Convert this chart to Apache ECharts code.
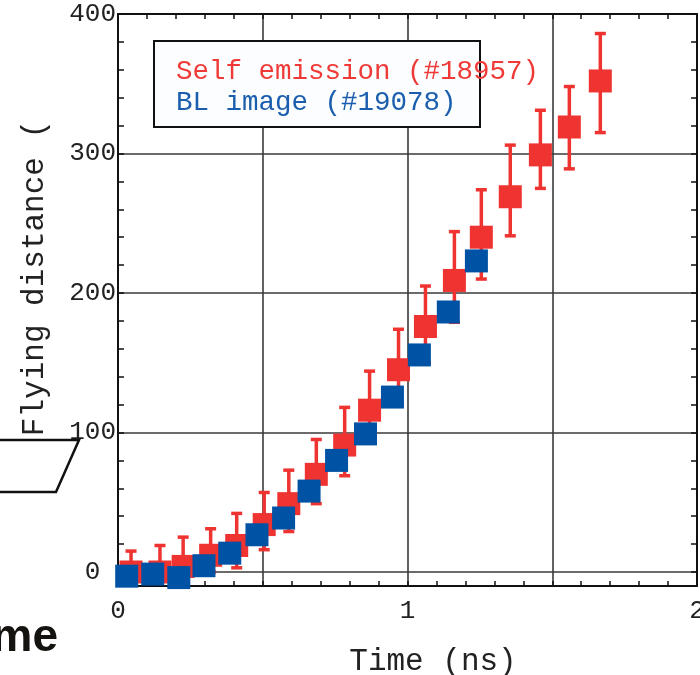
<!DOCTYPE html>
<html>
<head>
<meta charset="utf-8">
<style>
  html, body { margin: 0; padding: 0; background: #fff; }
  #chart { width: 700px; height: 675px; }
</style>
<script src="https://cdn.jsdelivr.net/npm/echarts@6/dist/echarts.min.js"></script>
</head>
<body>
<div id="chart"></div>
<script>
// Self emission shot (#18957): time (ns), distance, upper / lower error
const timeSelf = [0.045, 0.145, 0.225, 0.32, 0.41, 0.505, 0.59, 0.685, 0.783, 0.869, 0.969, 1.062, 1.162, 1.255, 1.355, 1.459, 1.559, 1.666];
const distSelf = [0, 0, 4, 12, 19, 34, 49, 70, 91, 116, 145, 176, 209, 240, 269, 299, 319, 352];
const errUpSelf = [15, 19, 21, 19, 23, 23, 24, 25, 27, 28, 29, 29, 35, 34, 37, 32, 29, 34];
const errDownSelf = [3, 3, 6, 12, 16, 18, 20, 21, 22, 22, 24, 26, 30, 30, 28, 24, 30, 37];

// BL image shot (#19078)
const timeBL = [0.03, 0.12, 0.21, 0.297, 0.386, 0.48, 0.572, 0.66, 0.755, 0.855, 0.948, 1.041, 1.141, 1.238];
const distBL = [-3, -1.5, -4, 4.5, 13.5, 26.7, 38.7, 58, 80, 99, 125.4, 155.6, 186.4, 223];

const xTicks = [0, 1, 2];
const yTicks = [0, 100, 200, 300, 400];

const legendSelf = 'Self emission (#18957)';
const legendBL = 'BL image (#19078)';
const xName = 'Time (ns)';
const yName = 'Flying distance (';

const RED = '#ee3330';
const BLUE = '#0052a4';
const MONO = '"Liberation Mono", "Courier New", monospace';

const selfPoints = timeSelf.map((t, i) => [t, distSelf[i]]);
const selfBars = timeSelf.map((t, i) => [t, distSelf[i] - errDownSelf[i], distSelf[i] + errUpSelf[i]]);
const blPoints = timeBL.map((t, i) => [t, distBL[i]]);

const chart = echarts.init(document.getElementById('chart'), null, { renderer: 'canvas' });

const gridLine = { show: true, lineStyle: { color: '#3a3a3a', width: 1.6 } };
const frameLine = { show: true, onZero: false, lineStyle: { color: '#111', width: 2 } };
const tickStyle = { color: '#111', width: 1.5 };

chart.setOption({
  animation: false,
  backgroundColor: '#fff',
  grid: [
    // data area: y from 0 to 400
    { left: 118, right: 3, top: 14, bottom: 103, outerBoundsMode: 'none', containLabel: false },
    // frame area: reaches slightly below zero
    { left: 118, right: 3, top: 14, bottom: 89, outerBoundsMode: 'none', containLabel: false }
  ],
  xAxis: [
    {
      gridIndex: 0, type: 'value', min: 0, max: 2, interval: 0.5,
      axisLine: { show: false }, axisTick: { show: false }, axisLabel: { show: false },
      splitLine: { show: false }
    },
    {
      gridIndex: 1, type: 'value', position: 'bottom', min: 0, max: 2, interval: 0.5,
      axisLine: frameLine,
      axisTick: { show: true, inside: true, length: 5, lineStyle: tickStyle },
      minorTick: { show: true, splitNumber: 5, length: 5, lineStyle: tickStyle },
      splitLine: gridLine,
      axisLabel: {
        show: true, margin: 12, fontFamily: MONO, fontSize: 26, color: '#222',
        customValues: xTicks,
        formatter: v => String(v)
      },
      name: xName, nameLocation: 'middle', nameGap: 60,
      nameTextStyle: { fontFamily: MONO, fontSize: 31, color: '#222', padding: [0, 0, 0, 51] }
    },
    {
      gridIndex: 1, type: 'value', position: 'top', min: 0, max: 2, interval: 0.5,
      axisLine: frameLine,
      axisTick: { show: true, inside: true, length: 5, lineStyle: tickStyle },
      minorTick: { show: true, splitNumber: 5, length: 5, lineStyle: tickStyle },
      splitLine: { show: false }, axisLabel: { show: false }
    }
  ],
  yAxis: [
    {
      gridIndex: 0, type: 'value', position: 'left', min: 0, max: 400, interval: 100,
      axisLine: { show: false },
      axisTick: { show: true, inside: true, length: 6, lineStyle: tickStyle },
      minorTick: { show: true, splitNumber: 5, length: 6, lineStyle: tickStyle },
      splitLine: gridLine,
      axisLabel: {
        show: true, margin: 2, fontFamily: MONO, fontSize: 26, color: '#222',
        customValues: yTicks,
        formatter: v => (v === 0 ? '0 ' : String(v))
      },
      name: yName, nameLocation: 'middle', nameGap: 68,
      nameTextStyle: { fontFamily: MONO, fontSize: 31, color: '#222', padding: [0, 0, 0, 30] }
    },
    {
      gridIndex: 0, type: 'value', position: 'right', min: 0, max: 400, interval: 100,
      axisLine: { show: false },
      axisTick: { show: true, inside: true, length: 6, lineStyle: tickStyle },
      minorTick: { show: true, splitNumber: 5, length: 6, lineStyle: tickStyle },
      splitLine: { show: false }, axisLabel: { show: false }
    },
    {
      gridIndex: 1, type: 'value', position: 'left', min: -10, max: 400,
      axisLine: frameLine, axisTick: { show: false }, axisLabel: { show: false }, splitLine: { show: false }
    },
    {
      gridIndex: 1, type: 'value', position: 'right', min: -10, max: 400,
      axisLine: frameLine, axisTick: { show: false }, axisLabel: { show: false }, splitLine: { show: false }
    }
  ],
  series: [
    {
      name: 'Self emission error',
      type: 'custom',
      xAxisIndex: 0, yAxisIndex: 0,
      z: 3,
      clip: false,
      data: selfBars,
      renderItem: function (params, api) {
        const x = api.value(0);
        const top = api.coord([x, api.value(2)]);
        const bot = api.coord([x, api.value(1)]);
        const cw = 5.5;
        const st = { stroke: RED, lineWidth: 3.5 };
        return {
          type: 'group',
          children: [
            { type: 'line', shape: { x1: top[0], y1: top[1], x2: bot[0], y2: bot[1] }, style: st },
            { type: 'line', shape: { x1: top[0] - cw, y1: top[1], x2: top[0] + cw, y2: top[1] }, style: st },
            { type: 'line', shape: { x1: bot[0] - cw, y1: bot[1], x2: bot[0] + cw, y2: bot[1] }, style: st }
          ]
        };
      }
    },
    {
      name: legendSelf,
      type: 'scatter',
      xAxisIndex: 0, yAxisIndex: 0,
      z: 4,
      clip: false,
      symbol: 'rect', symbolSize: 23,
      itemStyle: { color: RED, opacity: 1 },
      data: selfPoints
    },
    {
      name: legendBL,
      type: 'scatter',
      xAxisIndex: 0, yAxisIndex: 0,
      z: 5,
      clip: false,
      symbol: 'rect', symbolSize: 23,
      itemStyle: { color: BLUE, opacity: 1 },
      data: blPoints
    }
  ],
  graphic: [
    {
      type: 'rect', z: 10, shape: { x: 154, y: 41, width: 326, height: 86 },
      style: { fill: '#fbfdff', stroke: '#111', lineWidth: 2 }
    },
    {
      type: 'text', z: 11, x: 176, y: 72,
      style: { text: legendSelf, font: '27.5px ' + MONO, fill: '#ef3a37', verticalAlign: 'middle', align: 'left' }
    },
    {
      type: 'text', z: 11, x: 176, y: 103,
      style: { text: legendBL, font: '27.5px ' + MONO, fill: '#1a5ead', verticalAlign: 'middle', align: 'left' }
    },
    {
      type: 'polyline', z: 10,
      shape: { points: [[0, 440], [79, 440], [56, 492], [0, 492]] },
      style: { stroke: '#111', lineWidth: 2.5, fill: null }
    },
    {
      type: 'text', z: 10, x: 58, y: 638,
      style: { text: 'me', font: 'bold 46px "Liberation Sans", Arial, sans-serif', fill: '#15130f', align: 'right', verticalAlign: 'middle' }
    }
  ]
});
</script>
</body>
</html>
